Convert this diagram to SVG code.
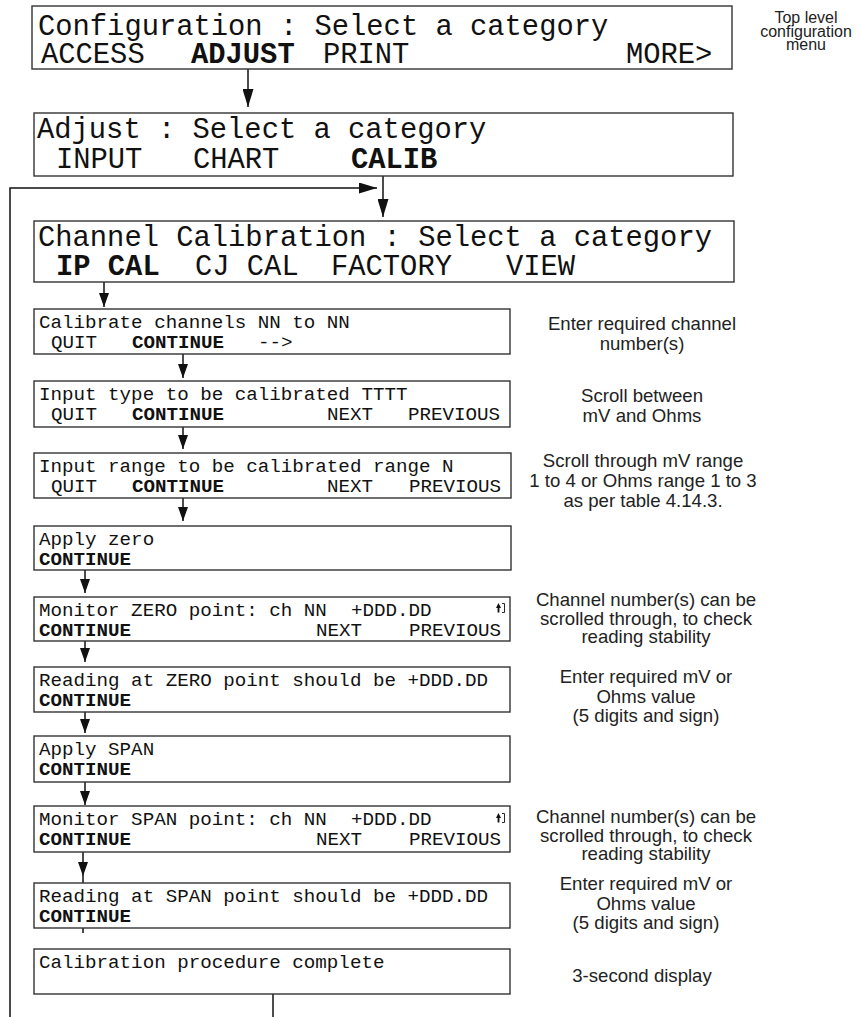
<svg xmlns="http://www.w3.org/2000/svg" width="860" height="1017" viewBox="0 0 860 1017">
  <style>
    .box { fill: #fff; stroke: #333; stroke-width: 1.4; }
    .lcd { font-family: "Liberation Mono", "DejaVu Sans Mono", monospace; fill: #111; }
    .big { font-size: 28.8px; }
    .sm { font-size: 19.2px; }
    .b { font-weight: bold; }
    .note { font-family: "Liberation Sans", Arial, sans-serif; font-size: 18.6px; fill: #222; text-anchor: middle; }
    .note-top { font-size: 16px; }
    .wire { fill: none; stroke: #111; stroke-width: 1.5; }
    .icon { fill: #111; }
  </style>
  <defs>
    <marker id="head" viewBox="0 0 14 10" refX="14" refY="5" markerWidth="14" markerHeight="10" markerUnits="userSpaceOnUse" orient="auto">
      <path d="M0,0 L14,5 L0,10 z" fill="#111"/>
    </marker>
    <marker id="headL" viewBox="0 0 18 11" refX="18" refY="5.5" markerWidth="18" markerHeight="11" markerUnits="userSpaceOnUse" orient="auto">
      <path d="M0,0 L18,5.5 L0,11 z" fill="#111"/>
    </marker>
    <!-- LCD scroll indicator glyph -->
    <g id="scroll-icon">
      <path class="icon" d="M2.5,0 L5,5 L3.4,5 L3.4,9.5 L1.6,9.5 L1.6,5 L0,5 z"/>
      <path d="M6,0.5 H8.5 V9.5 H6" fill="none" stroke="#111" stroke-width="0.9"/>
    </g>
  </defs>

  <!-- connectors -->
  <g id="connectors">
    <path class="wire" d="M248,69 V107" marker-end="url(#headL)"/>
    <path class="wire" d="M10,1017 V188 H377" marker-end="url(#headL)"/>
    <path class="wire" d="M383,176 V217" marker-end="url(#headL)"/>
    <path class="wire" d="M104,282 V307" marker-end="url(#head)"/>
    <path class="wire" d="M183,354 V378" marker-end="url(#head)"/>
    <path class="wire" d="M183,427 V449" marker-end="url(#head)"/>
    <path class="wire" d="M183,498 V521" marker-end="url(#head)"/>
    <path class="wire" d="M85,570 V593" marker-end="url(#head)"/>
    <path class="wire" d="M85,641 V662" marker-end="url(#head)"/>
    <path class="wire" d="M85,712 V733" marker-end="url(#head)"/>
    <path class="wire" d="M85,782 V805" marker-end="url(#head)"/>
    <path class="wire" d="M83,876 V883" stroke-width="1"/>
    <path class="wire" d="M83,852 V876" marker-end="url(#head)"/>
    <path class="wire" d="M83,928 V933" stroke-width="1"/>
    <path class="wire" d="M273,994 V1017"/>
  </g>

  <!-- top level configuration menu -->
  <g id="n-config">
    <rect class="box" x="32" y="6" width="700" height="63"/>
    <text class="lcd big" x="38" y="35">Configuration : Select a category</text>
    <text class="lcd big" y="63"><tspan x="41">ACCESS</tspan><tspan x="191" class="b">ADJUST</tspan><tspan x="323">PRINT</tspan><tspan x="626">MORE&gt;</tspan></text>
  </g>
  <g id="note-config">
    <text class="note note-top" x="806" y="23">Top level</text>
    <text class="note note-top" x="806" y="37">configuration</text>
    <text class="note note-top" x="806" y="50">menu</text>
  </g>

  <g id="n-adjust">
    <rect class="box" x="34" y="113" width="699" height="63"/>
    <text class="lcd big" x="37" y="138">Adjust : Select a category</text>
    <text class="lcd big" y="168"><tspan x="56">INPUT</tspan><tspan x="193">CHART</tspan><tspan x="351" class="b">CALIB</tspan></text>
  </g>

  <g id="n-chancal">
    <rect class="box" x="34" y="221" width="700" height="61"/>
    <text class="lcd big" x="38" y="246">Channel Calibration : Select a category</text>
    <text class="lcd big" y="275"><tspan x="56" class="b">IP CAL</tspan><tspan x="195">CJ CAL</tspan><tspan x="331">FACTORY</tspan><tspan x="506">VIEW</tspan></text>
  </g>

  <g id="n-channels">
    <rect class="box" x="34" y="309" width="476" height="45"/>
    <text class="lcd sm" x="39" y="328">Calibrate channels NN to NN</text>
    <text class="lcd sm" y="348"><tspan x="51">QUIT</tspan><tspan x="132" class="b">CONTINUE</tspan><tspan x="258">--&gt;</tspan></text>
  </g>
  <g id="note-channels">
    <text class="note" x="642" y="330">Enter required channel</text>
    <text class="note" x="642" y="350">number(s)</text>
  </g>

  <g id="n-type">
    <rect class="box" x="34" y="381" width="476" height="46"/>
    <text class="lcd sm" x="39" y="400">Input type to be calibrated TTTT</text>
    <text class="lcd sm" y="420"><tspan x="51">QUIT</tspan><tspan x="132" class="b">CONTINUE</tspan><tspan x="327">NEXT</tspan><tspan x="408">PREVIOUS</tspan></text>
  </g>
  <g id="note-type">
    <text class="note" x="642" y="402">Scroll between</text>
    <text class="note" x="642" y="422">mV and Ohms</text>
  </g>

  <g id="n-range">
    <rect class="box" x="34" y="453" width="477" height="45"/>
    <text class="lcd sm" x="39" y="472">Input range to be calibrated range N</text>
    <text class="lcd sm" y="492"><tspan x="51">QUIT</tspan><tspan x="132" class="b">CONTINUE</tspan><tspan x="327">NEXT</tspan><tspan x="409">PREVIOUS</tspan></text>
  </g>
  <g id="note-range">
    <text class="note" x="643" y="467">Scroll through mV range</text>
    <text class="note" x="643" y="487">1 to 4 or Ohms range 1 to 3</text>
    <text class="note" x="643" y="507">as per table 4.14.3.</text>
  </g>

  <g id="n-zero">
    <rect class="box" x="34" y="526" width="477" height="44"/>
    <text class="lcd sm" x="39" y="545">Apply zero</text>
    <text class="lcd sm b" x="39" y="565">CONTINUE</text>
  </g>

  <g id="n-monzero">
    <rect class="box" x="34" y="597" width="476" height="44"/>
    <text class="lcd sm" y="616"><tspan x="39">Monitor ZERO point: ch NN</tspan><tspan x="351">+DDD.DD</tspan></text>
    <use href="#scroll-icon" x="496" y="603"/>
    <text class="lcd sm" y="636"><tspan x="39" class="b">CONTINUE</tspan><tspan x="316">NEXT</tspan><tspan x="409">PREVIOUS</tspan></text>
  </g>
  <g id="note-monzero">
    <text class="note" x="646" y="606">Channel number(s) can be</text>
    <text class="note" x="646" y="625">scrolled through, to check</text>
    <text class="note" x="646" y="643">reading stability</text>
  </g>

  <g id="n-readzero">
    <rect class="box" x="34" y="667" width="476" height="45"/>
    <text class="lcd sm" x="39" y="686">Reading at ZERO point should be +DDD.DD</text>
    <text class="lcd sm b" x="39" y="706">CONTINUE</text>
  </g>
  <g id="note-readzero">
    <text class="note" x="646" y="683">Enter required mV or</text>
    <text class="note" x="646" y="703">Ohms value</text>
    <text class="note" x="646" y="722">(5 digits and sign)</text>
  </g>

  <g id="n-span">
    <rect class="box" x="34" y="736" width="476" height="46"/>
    <text class="lcd sm" x="39" y="755">Apply SPAN</text>
    <text class="lcd sm b" x="39" y="775">CONTINUE</text>
  </g>

  <g id="n-monspan">
    <rect class="box" x="34" y="806" width="476" height="46"/>
    <text class="lcd sm" y="825"><tspan x="39">Monitor SPAN point: ch NN</tspan><tspan x="351">+DDD.DD</tspan></text>
    <use href="#scroll-icon" x="496" y="813"/>
    <text class="lcd sm" y="845"><tspan x="39" class="b">CONTINUE</tspan><tspan x="316">NEXT</tspan><tspan x="409">PREVIOUS</tspan></text>
  </g>
  <g id="note-monspan">
    <text class="note" x="646" y="823">Channel number(s) can be</text>
    <text class="note" x="646" y="842">scrolled through, to check</text>
    <text class="note" x="646" y="860">reading stability</text>
  </g>

  <g id="n-readspan">
    <rect class="box" x="34" y="883" width="476" height="45"/>
    <text class="lcd sm" x="39" y="902">Reading at SPAN point should be +DDD.DD</text>
    <text class="lcd sm b" x="39" y="922">CONTINUE</text>
  </g>
  <g id="note-readspan">
    <text class="note" x="646" y="890">Enter required mV or</text>
    <text class="note" x="646" y="910">Ohms value</text>
    <text class="note" x="646" y="929">(5 digits and sign)</text>
  </g>

  <g id="n-complete">
    <rect class="box" x="34" y="949" width="476" height="45"/>
    <text class="lcd sm" x="39" y="968">Calibration procedure complete</text>
  </g>
  <g id="note-complete">
    <text class="note" x="642" y="982">3-second display</text>
  </g>
</svg>
